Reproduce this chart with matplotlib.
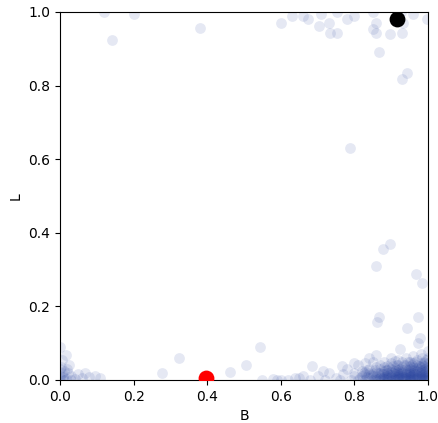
import matplotlib
matplotlib.use('Agg')
import matplotlib.pyplot as plt

# (B, L) pairs
top_pts = [
    (0.12, 1.0), (0.2, 0.995), (0.14, 0.924), (0.38, 0.957),
    (0.60, 0.97), (0.63, 0.99), (0.66, 0.99), (0.675, 0.98), (0.71, 0.995),
    (0.705, 0.962), (0.73, 0.97), (0.735, 0.943), (0.753, 0.943), (0.753, 1.0),
    (0.78, 0.98), (0.80, 0.99), (0.85, 1.0), (0.86, 0.97), (0.85, 0.955),
    (0.86, 0.943), (0.897, 0.94), (0.866, 0.89), (0.93, 0.943), (0.932, 0.97),
    (0.927, 1.0), (0.96, 0.995), (0.997, 0.98), (0.943, 0.834), (0.93, 0.818),
]

mid_pts = [
    (0.788, 0.63), (0.897, 0.37), (0.878, 0.356), (0.859, 0.31), (0.967, 0.288),
    (0.984, 0.264), (0.867, 0.171), (0.862, 0.157), (0.973, 0.171), (0.943, 0.141),
    (0.978, 0.114), (0.973, 0.1), (0.859, 0.068), (0.924, 0.084),
]

low_left_pts = [
    (0.0, 0.09), (0.016, 0.068), (0.005, 0.054), (0.024, 0.04), (0.0, 0.03),
    (0.01, 0.025), (0.022, 0.019), (0.0, 0.012), (0.008, 0.008), (0.015, 0.004),
    (0.03, 0.01), (0.04, 0.002), (0.05, 0.015), (0.068, 0.019), (0.06, 0.005),
    (0.08, 0.008), (0.095, 0.01), (0.109, 0.005), (0.0, 0.0), (0.005, 0.018),
    (0.012, 0.0), (0.03, 0.0), (0.02, 0.03), (0.0, 0.005), (0.004, 0.035),
]

low_mid_pts = [
    (0.277, 0.019), (0.323, 0.06), (0.462, 0.022), (0.505, 0.041), (0.543, 0.09),
    (0.55, 0.0), (0.59, 0.0), (0.6, 0.0), (0.64, 0.005), (0.685, 0.038),
    (0.714, 0.024), (0.766, 0.038), (0.58, 0.003), (0.62, 0.0), (0.65, 0.005),
    (0.66, 0.012), (0.68, 0.0), (0.70, 0.01), (0.72, 0.0), (0.73, 0.02),
    (0.75, 0.005), (0.76, 0.0), (0.77, 0.015), (0.78, 0.03), (0.79, 0.0),
]

cluster_pts = [
    (0.80, 0.01), (0.80, 0.02), (0.81, 0.0), (0.81, 0.04), (0.82, 0.01),
    (0.82, 0.025), (0.83, 0.0), (0.83, 0.045), (0.83, 0.015), (0.84, 0.005),
    (0.84, 0.03), (0.85, 0.0), (0.85, 0.02), (0.85, 0.05), (0.86, 0.01),
    (0.86, 0.035), (0.86, 0.0), (0.84, 0.06), (0.80, 0.045),
    (0.815, 0.005), (0.825, 0.018), (0.835, 0.008), (0.835, 0.028), (0.845, 0.0),
    (0.845, 0.014), (0.855, 0.006), (0.855, 0.026), (0.865, 0.002), (0.865, 0.02),
    (0.82, 0.0), (0.84, 0.018), (0.86, 0.022), (0.85, 0.01), (0.83, 0.022),
    (0.87, 0.0), (0.87, 0.006), (0.87, 0.012), (0.87, 0.02), (0.87, 0.03), (0.87, 0.042),
    (0.88, 0.002), (0.88, 0.009), (0.88, 0.015), (0.88, 0.024), (0.88, 0.035), (0.88, 0.05),
    (0.89, 0.0), (0.89, 0.005), (0.89, 0.011), (0.89, 0.018), (0.89, 0.027), (0.89, 0.038),
    (0.90, 0.001), (0.90, 0.007), (0.90, 0.013), (0.90, 0.021), (0.90, 0.03), (0.90, 0.045),
    (0.90, 0.06), (0.91, 0.0), (0.91, 0.004), (0.91, 0.01), (0.91, 0.016), (0.91, 0.025),
    (0.91, 0.033), (0.91, 0.052), (0.92, 0.002), (0.92, 0.008), (0.92, 0.014), (0.92, 0.02),
    (0.92, 0.028), (0.92, 0.04), (0.92, 0.055), (0.93, 0.0), (0.93, 0.005), (0.93, 0.012),
    (0.93, 0.018), (0.93, 0.026), (0.93, 0.036), (0.93, 0.048), (0.94, 0.001), (0.94, 0.006),
    (0.94, 0.011), (0.94, 0.017), (0.94, 0.023), (0.94, 0.031), (0.94, 0.042), (0.94, 0.06),
    (0.95, 0.0), (0.95, 0.004), (0.95, 0.009), (0.95, 0.015), (0.95, 0.022), (0.95, 0.03),
    (0.95, 0.038), (0.95, 0.05), (0.96, 0.002), (0.96, 0.007), (0.96, 0.013), (0.96, 0.019),
    (0.96, 0.026), (0.96, 0.034), (0.96, 0.045), (0.96, 0.065), (0.97, 0.0), (0.97, 0.005),
    (0.97, 0.01), (0.97, 0.016), (0.97, 0.024), (0.97, 0.032), (0.97, 0.04), (0.97, 0.055),
    (0.98, 0.001), (0.98, 0.006), (0.98, 0.012), (0.98, 0.018), (0.98, 0.025), (0.98, 0.035),
    (0.98, 0.047), (0.98, 0.07), (0.99, 0.0), (0.99, 0.004), (0.99, 0.009), (0.99, 0.015),
    (0.99, 0.021), (0.99, 0.029), (0.99, 0.038), (0.99, 0.05), (1.0, 0.002), (1.0, 0.008),
    (1.0, 0.014), (1.0, 0.02), (1.0, 0.028), (1.0, 0.036), (1.0, 0.045), (1.0, 0.06), (1.0, 0.08),
    (0.875, 0.003), (0.875, 0.016), (0.885, 0.007), (0.885, 0.028), (0.895, 0.002), (0.895, 0.014),
    (0.895, 0.032), (0.905, 0.005), (0.905, 0.018), (0.905, 0.038), (0.915, 0.002), (0.915, 0.012),
    (0.915, 0.022), (0.915, 0.042), (0.925, 0.006), (0.925, 0.017), (0.925, 0.03), (0.935, 0.002),
    (0.935, 0.009), (0.935, 0.021), (0.935, 0.04), (0.945, 0.004), (0.945, 0.013), (0.945, 0.027),
    (0.945, 0.05), (0.955, 0.001), (0.955, 0.011), (0.955, 0.02), (0.955, 0.035), (0.965, 0.005),
    (0.965, 0.015), (0.965, 0.028), (0.965, 0.05), (0.975, 0.002), (0.975, 0.012), (0.975, 0.022),
    (0.975, 0.037), (0.985, 0.004), (0.985, 0.014), (0.985, 0.027), (0.985, 0.042), (0.985, 0.06),
    (0.995, 0.001), (0.995, 0.011), (0.995, 0.024), (0.995, 0.033), (0.995, 0.055),
    (0.878, 0.006), (0.892, 0.009), (0.908, 0.003), (0.922, 0.011), (0.938, 0.005), (0.952, 0.008),
    (0.968, 0.003), (0.982, 0.009), (0.998, 0.005), (0.888, 0.02), (0.912, 0.028), (0.928, 0.022),
    (0.948, 0.018), (0.962, 0.024), (0.978, 0.03), (0.992, 0.018), (0.958, 0.04), (0.988, 0.045),
]

red_pt = (0.397, 0.005)
black_pt = (0.916, 0.98)

all_pts = top_pts + mid_pts + low_left_pts + low_mid_pts + cluster_pts
b_vals = [p[0] for p in all_pts]
l_vals = [p[1] for p in all_pts]

fig = plt.figure(figsize=(4.38, 4.23), dpi=100)
ax = fig.add_axes([0.137, 0.1017, 0.840, 0.870])

ax.scatter(b_vals, l_vals, s=60, color='#2a45a0', alpha=0.12, linewidths=0)
ax.scatter([red_pt[0]], [red_pt[1]], s=130, color='red', linewidths=0, zorder=3)
ax.scatter([black_pt[0]], [black_pt[1]], s=130, color='black', linewidths=0, zorder=3)

ax.set_xlim(0, 1)
ax.set_ylim(0, 1)
ax.set_xlabel('B')
ax.set_ylabel('L')

fig.savefig('out.png', dpi=100)
